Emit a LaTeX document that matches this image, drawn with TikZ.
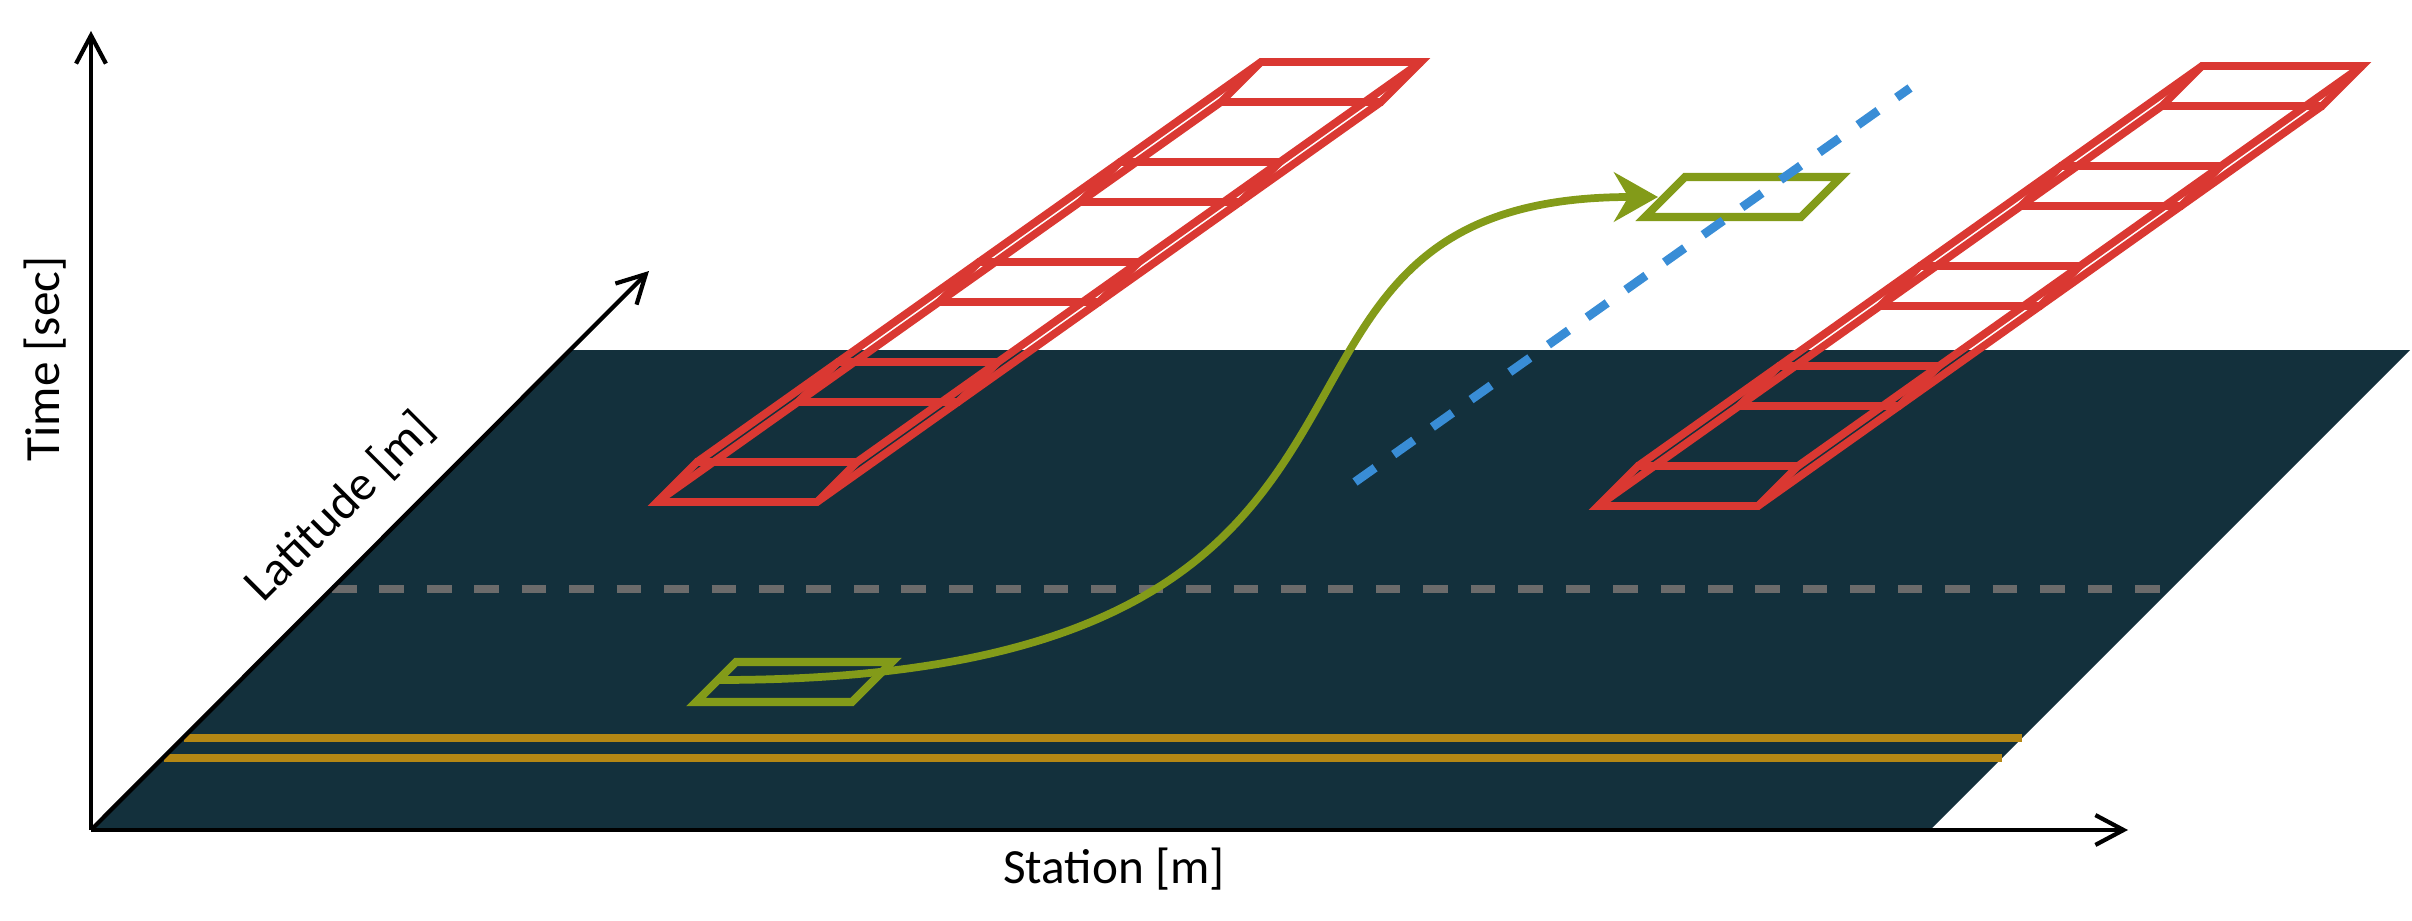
\documentclass[tikz,border=0pt]{standalone}
\usepackage{fontspec}
\setmainfont{Carlito}
\usepackage{tikz}
\usetikzlibrary{arrows.meta}
\definecolor{roadNight}{HTML}{13303C}
\definecolor{obsRed}{HTML}{DA3832}
\definecolor{egoOlive}{HTML}{839B19}
\definecolor{predBlue}{HTML}{398DD6}
\definecolor{laneGray}{HTML}{6B6B6B}
\definecolor{laneGold}{HTML}{B48714}
\tikzset{
  axis/.style={-{Straight Barb[length=8pt,width=8.5pt]}, line width=1.2pt, black},
  obs/.style={line width=2.2pt, obsRed},
  ego/.style={line width=2.3pt, egoOlive},
  traj/.style={-{Stealth[length=12.5pt,width=14pt]}, line width=2.2pt, egoOlive},
  pred/.style={line width=2.5pt, predBlue, dash pattern=on 7pt off 6.5pt},
  centre/.style={line width=2.1pt, laneGray, dash pattern=on 7pt off 6.5pt},
  curb/.style={line width=2.4pt, laneGold},
  lbl/.style={font=\fontsize{14}{17}\selectfont},
}
\newcommand{\obstaclestack}{%
  \foreach \k in {0,...,4}
    \draw[obs] (1.41*\k,\k) -- ++(1.6,0) -- ++(0.4,0.4) -- ++(-1.6,0) -- cycle;
  \foreach \cx/\cy in {0/0,1.6/0,2/0.4,0.4/0.4}
    \draw[obs] (\cx,\cy) -- ++(5.64,4);}

\begin{document}
\begin{tikzpicture}
  \useasboundingbox (0,0) rectangle (24.12,9.20);
  \coordinate (origin) at (0.91,0.90);
  % road surface and markings
  \fill[roadNight] (origin) -- (19.30,0.90) -- (24.10,5.70) -- (5.71,5.70) -- cycle;
  \draw[centre] (3.32,3.31) -- (21.71,3.31);
  \draw[curb] (1.84,1.82) -- (20.22,1.82);
  \draw[curb] (1.64,1.62) -- (20.02,1.62);
  % obstacles over time
  \begin{scope}[shift={(6.57,4.18)}]
    \obstaclestack
  \end{scope}
  \begin{scope}[shift={(15.98,4.14)}]
    \obstaclestack
  \end{scope}
  % ego vehicle and goal
  \draw[ego] (6.96,2.18) -- ++(1.56,0) -- ++(0.4,0.4) -- ++(-1.56,0) -- cycle;
  \draw[ego] (16.45,7.03) -- ++(1.56,0) -- ++(0.4,0.4) -- ++(-1.56,0) -- cycle;
  \coordinate (egostart) at (7.18,2.40);
  \coordinate (goalend) at (16.58,7.23);
  \draw[traj] (egostart) .. controls +(7.85,0) and +(-4.80,0) .. (goalend);
  \draw[pred] (13.55,4.38) -- (19.10,8.32);
  % axes
  \draw[axis] (origin) -- (0.91,8.89);
  \draw[axis] (origin) -- (21.28,0.90);
  \draw[axis] (origin) -- (6.49,6.49);
  \node[lbl, rotate=90] (timelbl) at (0.45,5.61) {Time [sec]};
  \node[lbl, rotate=45] (latlbl) at (3.40,4.13) {Latitude [m]};
  \node[lbl] (stationlbl) at (11.14,0.51) {Station [m]};
\end{tikzpicture}
\end{document}
